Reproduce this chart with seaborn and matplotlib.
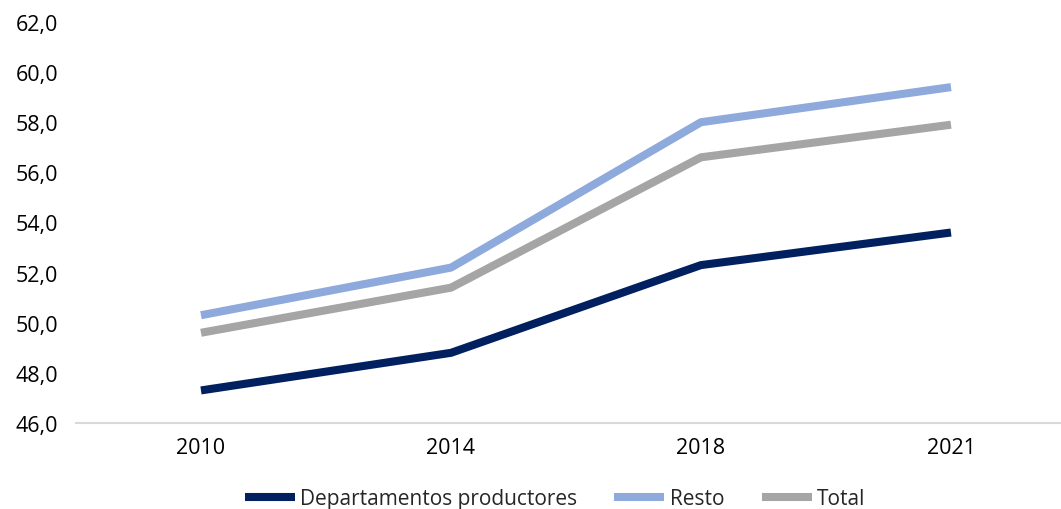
import pandas as pd
import numpy as np
import seaborn as sns
import matplotlib.pyplot as plt

years = ["2010", "2014", "2018", "2021"]
departamentos = [47.3, 48.8, 52.3, 53.6]
resto = [50.3, 52.2, 58.0, 59.4]
total = [49.6, 51.4, 56.6, 57.9]
series_names = ["Departamentos productores", "Resto", "Total"]
colors = ["#002060", "#8EA9DB", "#A5A5A5"]

##build long dataframe for seaborn
df = pd.DataFrame({
    "Año": years * 3,
    "Valor": departamentos + resto + total,
    "Serie": [series_names[0]] * 4 + [series_names[1]] * 4 + [series_names[2]] * 4,
})
df["pos"] = df["Año"].map({y: i for i, y in enumerate(years)})

sns.set_style("white")
plt.rcParams["font.family"] = ["Open Sans", "DejaVu Sans"]

fig = plt.figure(figsize=(10.61, 5.10), dpi=100)
ax = fig.add_axes([0.0716, 0.1686, 0.9284, 0.7864])

sns.lineplot(data=df, x="pos", y="Valor", hue="Serie", palette=colors,
             linewidth=5.8, ax=ax, legend=False, solid_capstyle="butt")

ax.set_xlim(-0.5, 3.44)
ax.set_ylim(46, 62)
ax.set_xticks(range(len(years)))
ax.set_xticklabels(years)
ax.set_yticks(np.arange(46, 63, 2))
ax.set_yticklabels([f"{v:.1f}".replace(".", ",") for v in np.arange(46, 63, 2)])
ax.tick_params(axis="both", length=0, labelsize=15.5, colors="#000000")
ax.tick_params(axis="x", pad=10)
ax.tick_params(axis="y", pad=13)
ax.set_xlabel("")
ax.set_ylabel("")

for s in ["top", "right", "left"]:
    ax.spines[s].set_visible(False)
ax.spines["bottom"].set_color("#D9D9D9")
ax.spines["bottom"].set_linewidth(1.5)

##legend at the bottom
handles = [plt.Line2D([0], [0], color=c, linewidth=5.8, solid_capstyle="butt") for c in colors]
fig.legend(handles, series_names, loc="center", bbox_to_anchor=(0.523, 0.02),
           ncol=3, frameon=False, fontsize=15, handlelength=2.4,
           handletextpad=0.25, columnspacing=1.8)

fig.savefig("out.png", dpi=100)
